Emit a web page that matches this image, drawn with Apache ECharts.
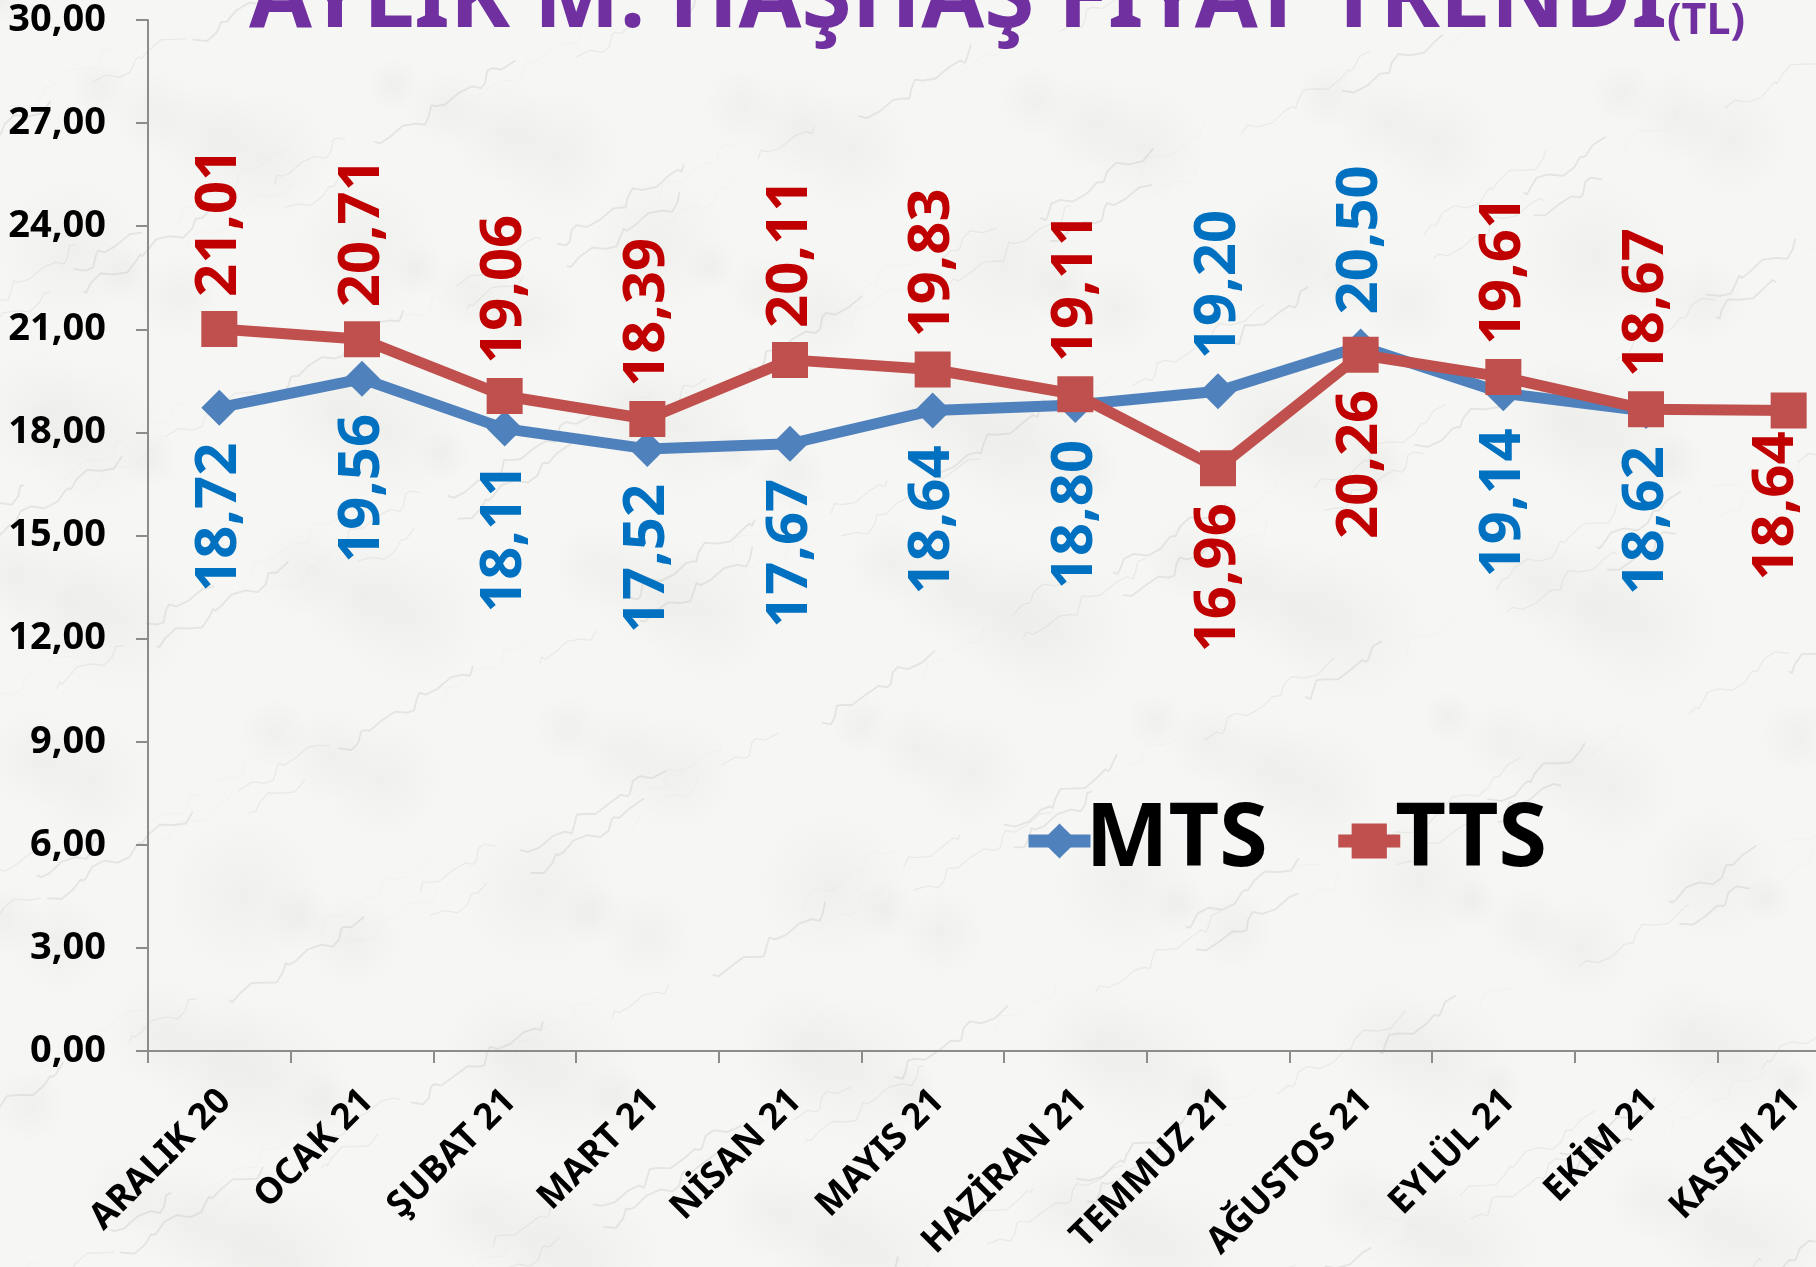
<!DOCTYPE html>
<html>
<head>
<meta charset="utf-8">
<script src="https://cdn.jsdelivr.net/npm/echarts@6/dist/echarts.min.js"></script>
<style>
  html, body { margin: 0; padding: 0; background: #f3f3f1; }
  #chart { width: 1816px; height: 1267px; background-repeat: no-repeat; }
</style>
</head>
<body>
<div id="chart"></div>
<script>
// Monthly poppy-seed (haşhaş) prices, TL
const categories = ['ARALIK 20', 'OCAK 21', 'ŞUBAT 21', 'MART 21', 'NİSAN 21', 'MAYIS 21',
                    'HAZİRAN 21', 'TEMMUZ 21', 'AĞUSTOS 21', 'EYLÜL 21', 'EKİM 21', 'KASIM 21'];
const mtsValues = [18.72, 19.56, 18.11, 17.52, 17.67, 18.64, 18.80, 19.20, 20.50, 19.14, 18.62, null];
const ttsValues = [21.01, 20.71, 19.06, 18.39, 20.11, 19.83, 19.11, 16.96, 20.26, 19.61, 18.67, 18.64];
const seriesNames = ['MTS', 'TTS'];
const titleText = 'AYLIK M. HAŞHAŞ FİYAT TRENDİ';
const titleUnit = '(TL)';

const FONT = '"Noto Sans", "Open Sans", sans-serif';

// light marble backdrop: soft mottling plus thin diagonal veins (deterministic)
function marble(w, h) {
  const c = document.createElement('canvas');
  c.width = w; c.height = h;
  const g = c.getContext('2d');
  g.fillStyle = '#f6f6f4';
  g.fillRect(0, 0, w, h);
  for (let i = 0; i < 160; i++) {
    const x = (i * 263.7) % w, y = (i * 157.9) % h;
    const r = 25 + (i * 41) % 55;
    const grd = g.createRadialGradient(x, y, 0, x, y, r);
    grd.addColorStop(0, 'rgba(205,205,200,0.16)');
    grd.addColorStop(1, 'rgba(205,205,200,0)');
    g.fillStyle = grd;
    g.fillRect(x - r, y - r, 2 * r, 2 * r);
  }
  g.lineCap = 'round';
  g.lineJoin = 'round';
  for (let k = 0; k < 260; k++) {
    let x = (k * 173.3) % (w + 300) - 200;
    let y = (k * 311.7) % (h + 300);
    g.beginPath();
    g.moveTo(x, y);
    const steps = 6 + (k * 7) % 12;
    for (let s = 0; s < steps; s++) {
      x += 8 + 6 * Math.sin(k * 1.3 + s * 0.9);
      y -= 5 + 7 * Math.sin(k * 2.1 + s * 1.7);
      g.lineTo(x, y);
    }
    g.strokeStyle = 'rgba(155,155,150,' + (0.09 + 0.05 * ((k * 7) % 3)) + ')';
    g.lineWidth = 0.6 + (k % 3) * 0.6;
    g.stroke();
  }
  return c.toDataURL();
}

const el = document.getElementById('chart');
el.style.backgroundImage = 'url(' + marble(1816, 1267) + ')';

const fmt = v => v.toFixed(2).replace('.', ',');

const labelAbove = {
  show: true, position: 'top', rotate: 90, align: 'left', verticalAlign: 'middle',
  distance: 14, fontFamily: FONT, fontWeight: 'bold', fontSize: 58
};
const labelBelow = {
  show: true, position: 'bottom', rotate: 90, align: 'right', verticalAlign: 'middle',
  distance: 17, fontFamily: FONT, fontWeight: 'bold', fontSize: 58
};

// MTS labels go above only where its line sits over TTS
const mtsData = mtsValues.map((v, i) => v == null ? null : {
  value: v,
  label: Object.assign({}, (i === 7 || i === 8) ? labelAbove : labelBelow, { color: '#0070C0' })
});
// last TTS label is pulled back inside the right edge (offset is in the rotated text frame)
const ttsData = ttsValues.map((v, i) => ({
  value: v,
  label: Object.assign({}, (i === 7 || i === 8 || i === 11) ? labelBelow : labelAbove,
    { color: '#C00000' }, i === 11 ? { offset: [14, -12] } : {})
}));

const chart = echarts.init(el, null, { renderer: 'canvas' });
chart.setOption({
  backgroundColor: 'transparent',
  animation: false,
  textStyle: { fontFamily: FONT },
  graphic: [
    {
      type: 'text', x: 249, y: 1, z: 10,
      style: {
        text: titleText, fill: '#7030A0',
        font: 'bold 91px ' + FONT, verticalAlign: 'middle', align: 'left'
      }
    },
    {
      type: 'text', x: 1667, y: 22, z: 10,
      style: {
        text: titleUnit, fill: '#7030A0',
        font: 'bold 43px ' + FONT, verticalAlign: 'middle', align: 'left'
      }
    }
  ],
  legend: {
    data: seriesNames,
    left: 1022, top: 797, padding: 0,
    itemWidth: 62, itemHeight: 44, itemGap: 64,
    lineStyle: { width: 13 },
    textStyle: { fontFamily: FONT, fontSize: 88, fontWeight: 'bold', color: '#000', padding: [0, 0, 0, -10] }
  },
  grid: { left: 148, right: -44, top: 20, bottom: 216, containLabel: false, outerBoundsMode: 'none' },
  xAxis: {
    type: 'category',
    data: categories,
    boundaryGap: true,
    axisLine: { lineStyle: { color: '#8c8c8c', width: 2 } },
    axisTick: { show: true, length: 12, lineStyle: { color: '#8c8c8c', width: 2 } },
    axisLabel: {
      interval: 0, rotate: 45, margin: 50,
      align: 'right', verticalAlign: 'middle', padding: [0, -8, 0, 0],
      fontFamily: FONT, fontWeight: 'bold', fontSize: 36, color: '#000'
    },
    splitLine: { show: false }
  },
  yAxis: {
    type: 'value',
    min: 0, max: 30, interval: 3,
    axisLine: { show: true, lineStyle: { color: '#8c8c8c', width: 2 } },
    axisTick: { show: true, length: 12, lineStyle: { color: '#8c8c8c', width: 2 } },
    axisLabel: {
      margin: 42, formatter: v => fmt(v),
      fontFamily: FONT, fontWeight: 'bold', fontSize: 38, color: '#000'
    },
    splitLine: { show: false }
  },
  series: [
    {
      name: seriesNames[0], type: 'line', data: mtsData,
      symbol: 'diamond', symbolSize: 36,
      lineStyle: { color: '#4F81BD', width: 11 },
      itemStyle: { color: '#4F81BD' },
      label: { formatter: p => fmt(p.value) },
      z: 2
    },
    {
      name: seriesNames[1], type: 'line', data: ttsData,
      symbol: 'rect', symbolSize: 36,
      lineStyle: { color: '#C0504D', width: 11 },
      itemStyle: { color: '#C0504D' },
      label: { formatter: p => fmt(p.value) },
      z: 3
    }
  ]
});
</script>
</body>
</html>
